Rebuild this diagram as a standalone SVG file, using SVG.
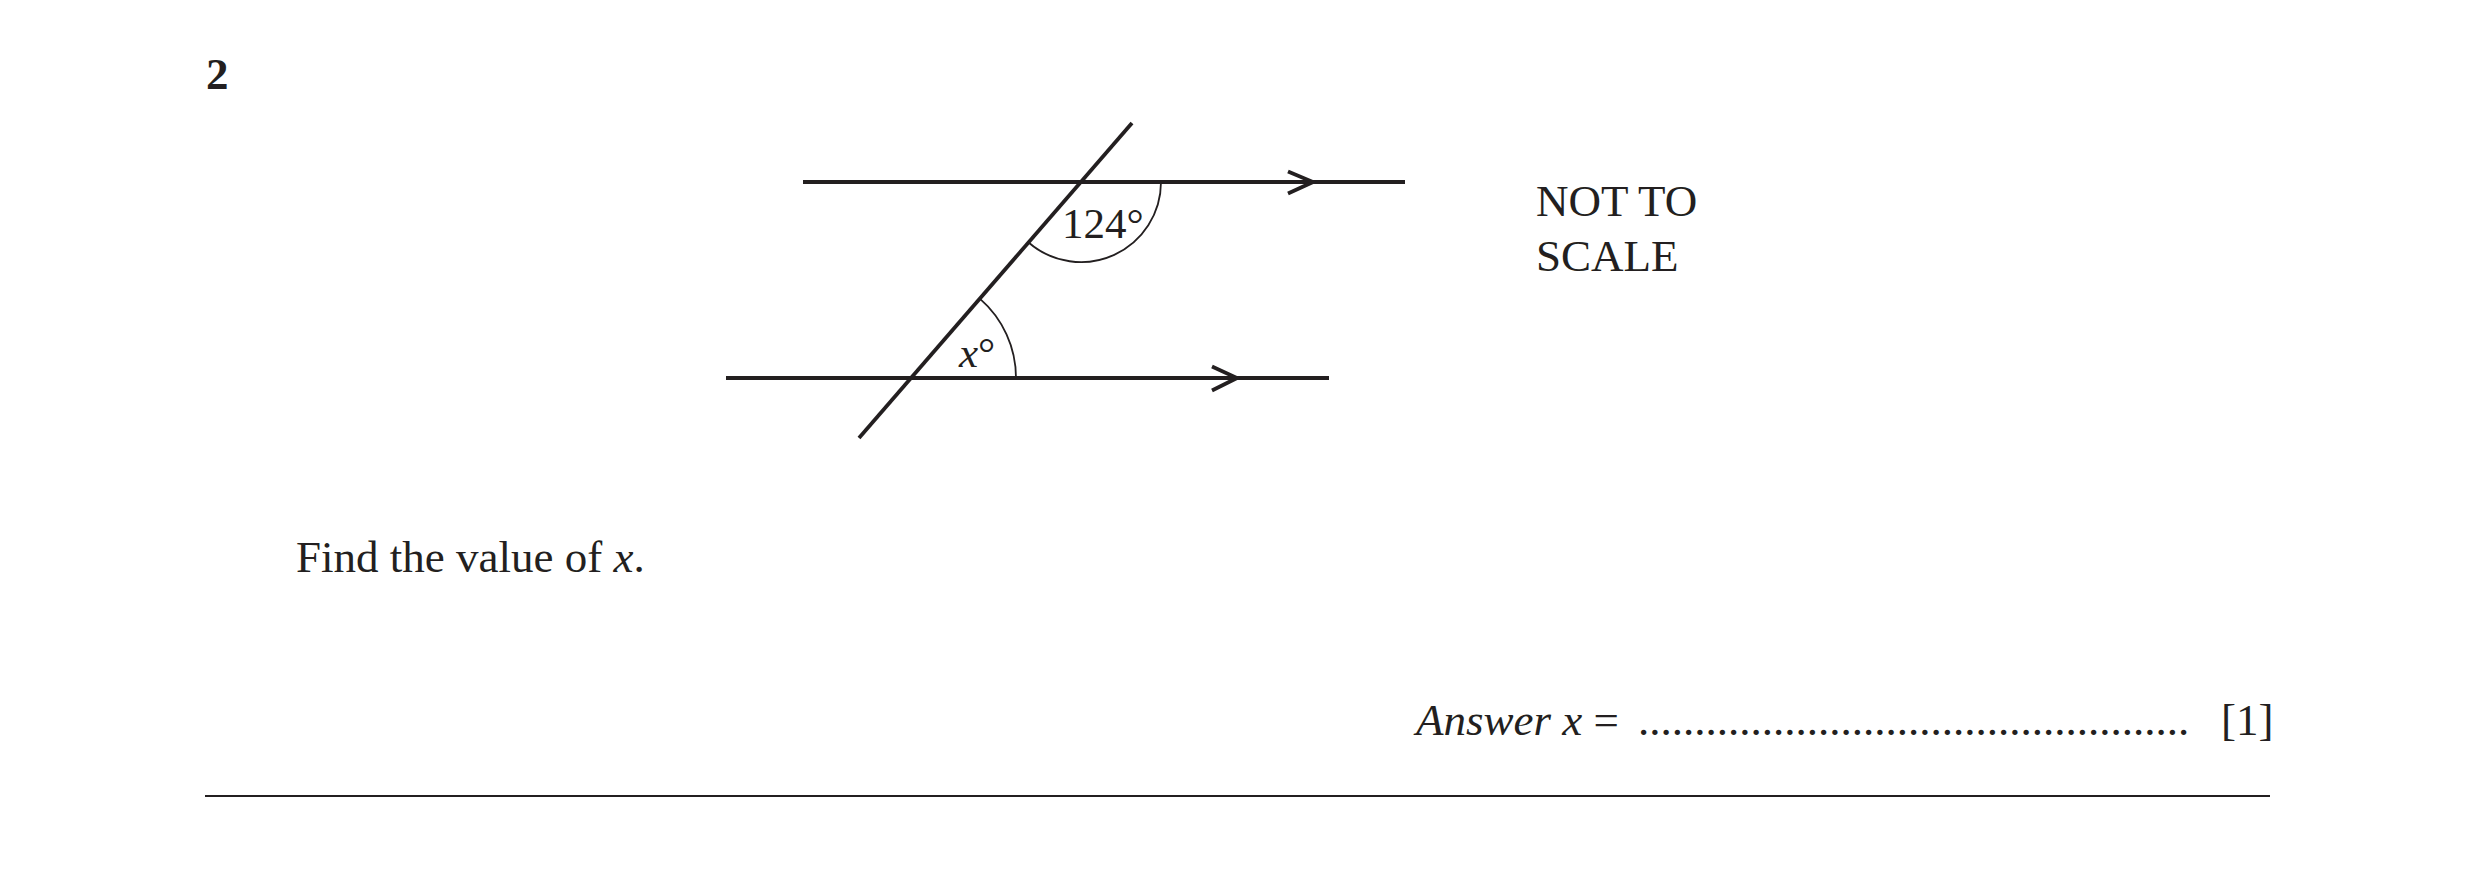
<svg xmlns="http://www.w3.org/2000/svg" width="2481" height="892" viewBox="0 0 2481 892">
<style>
  text { font-family: "Liberation Serif", "Times New Roman", serif; fill: #231f20; }
  .t45 { font-size: 45px; }
  .lbl { font-size: 43px; }
  .it { font-style: italic; }
  .b { font-weight: bold; }
  .thick { stroke: #231f20; stroke-width: 3.8; fill: none; stroke-linecap: butt; }
  .arc { stroke: #231f20; stroke-width: 1.8; fill: none; }
  .rule { stroke: #231f20; stroke-width: 2.2; fill: none; }
</style>
<rect x="0" y="0" width="2481" height="892" fill="#ffffff"/>

<g id="question-number">
  <text class="t45 b" x="206" y="89">2</text>
</g>

<g id="figure">
  <g id="upper-parallel">
    <line class="thick" x1="803" y1="182" x2="1405" y2="182"/>
    <polyline class="thick" points="1288,171.5 1313,182 1288,193.5"/>
  </g>
  <g id="lower-parallel">
    <line class="thick" x1="726" y1="378" x2="1329" y2="378"/>
    <polyline class="thick" points="1212,366.5 1237,378 1212,390.5"/>
  </g>
  <g id="transversal">
    <line class="thick" x1="859" y1="438" x2="1132" y2="123"/>
  </g>
  <g id="angle-124">
    <path class="arc" d="M 1161 182 A 80 80 0 0 1 1028.6 242.5"/>
    <text class="lbl" x="1062" y="238">124°</text>
  </g>
  <g id="angle-x">
    <path class="arc" d="M 979.8 298.6 A 105 105 0 0 1 1016 378"/>
    <text class="lbl" x="959" y="367"><tspan class="it">x</tspan>°</text>
  </g>
</g>

<g id="not-to-scale">
  <text class="t45" x="1536" y="216">NOT TO</text>
  <text class="t45" x="1536" y="271">SCALE</text>
</g>

<g id="question-text">
  <text class="t45" x="296" y="572">Find the value of <tspan class="it">x</tspan>.</text>
</g>

<g id="answer-line">
  <text class="t45" x="1416" y="735"><tspan class="it">Answer x</tspan> =</text>
  <text class="t45" x="1638" y="735">.................................................</text>
  <text class="t45" x="2221" y="735">[1]</text>
</g>

<g id="bottom-rule">
  <line class="rule" x1="205" y1="796" x2="2270" y2="796"/>
</g>
</svg>
